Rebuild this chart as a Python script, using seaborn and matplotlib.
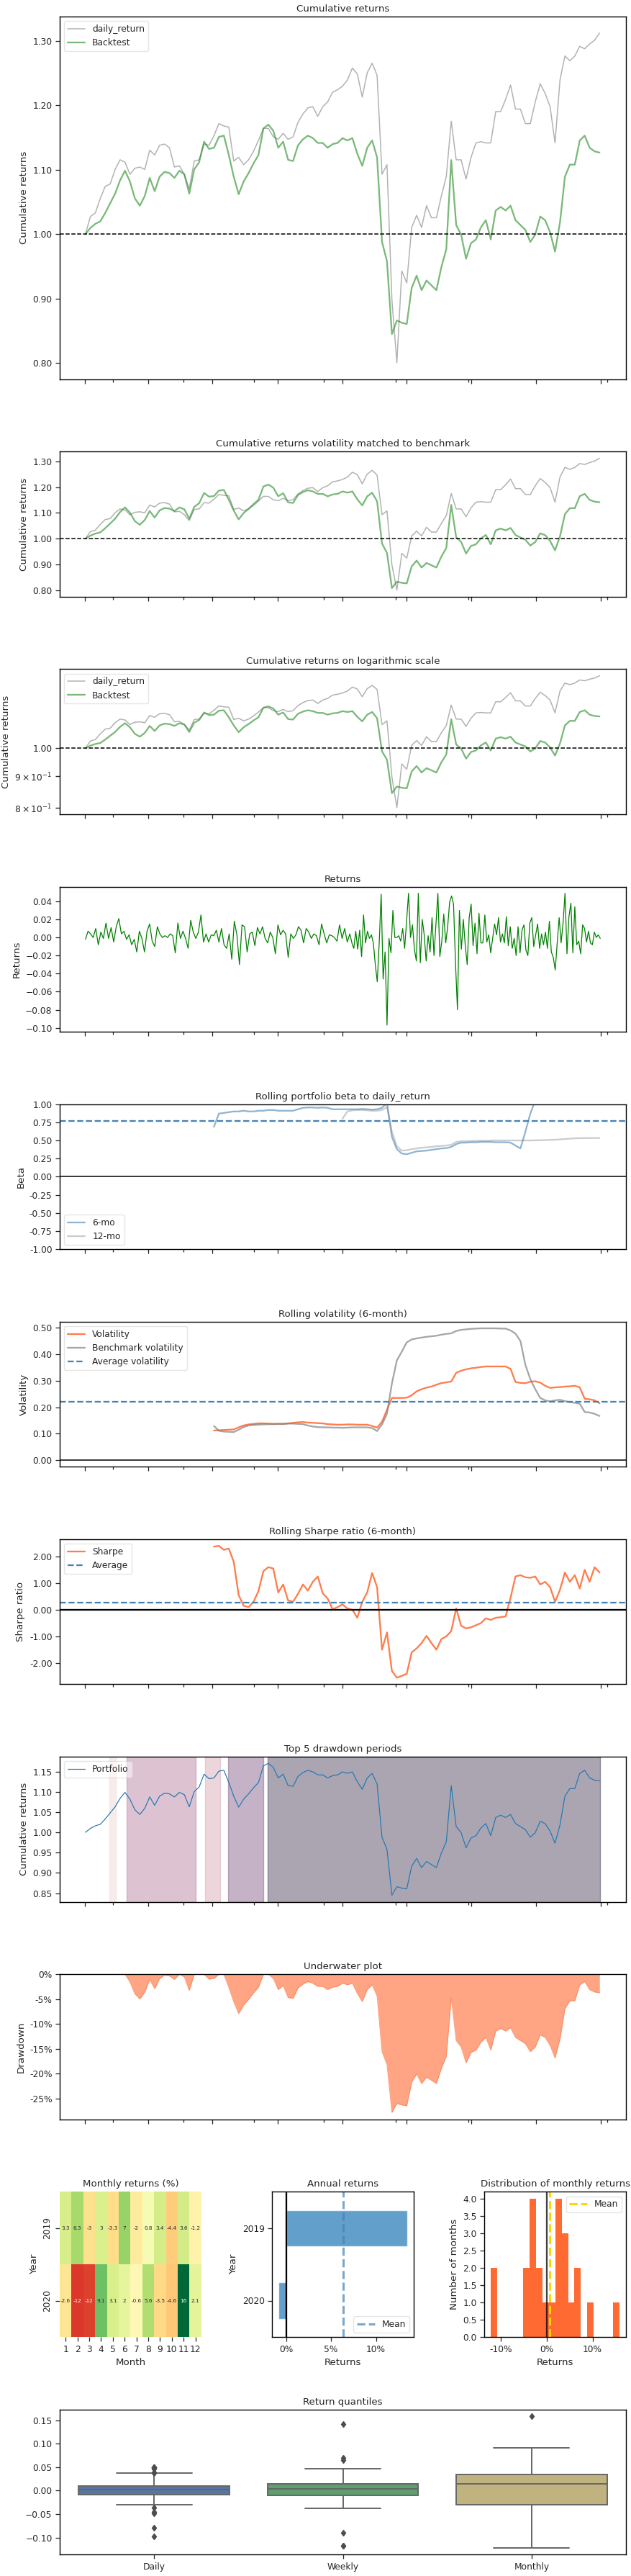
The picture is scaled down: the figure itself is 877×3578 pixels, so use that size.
import numpy as np
import pandas as pd
import matplotlib
matplotlib.use("Agg")
import matplotlib.pyplot as plt
import matplotlib.dates as mdates
from matplotlib.ticker import FuncFormatter, FixedLocator, MultipleLocator
import seaborn as sns

# ------------------------------------------------------------------ data
# weekly cumulative returns (2019-01-02 ... 2020-12-30, every 7 days)
backtest_cum = [
    1.000, 1.0097, 1.0161, 1.0199, 1.0330, 1.0480, 1.0629, 1.0836, 1.0985, 1.0817,
    1.0555, 1.0442, 1.0592, 1.0873, 1.0667, 1.0892, 1.0967, 1.0948, 1.0873, 1.0985,
    1.0929, 1.0629, 1.1004, 1.1117, 1.1435, 1.1323, 1.1341, 1.1510, 1.1529, 1.1229,
    1.0892, 1.0620, 1.0817, 1.0948, 1.1098, 1.1229, 1.1641, 1.1700, 1.1604, 1.1341,
    1.1435, 1.1154, 1.1135, 1.1379, 1.1472, 1.1529, 1.1491, 1.1416, 1.1416, 1.1341,
    1.1398, 1.1416, 1.1491, 1.1454, 1.1491, 1.1248, 1.1060, 1.1341, 1.1454, 1.1191,
    0.9880, 0.9580, 0.8450, 0.8662, 0.8625, 0.8606, 0.9168, 0.9356, 0.9131, 0.9281,
    0.9206, 0.9131, 0.9487, 0.9768, 1.1150, 1.0142, 0.9993, 0.9618, 0.9861, 0.9918,
    1.0105, 1.0217, 0.9918, 1.0367, 1.0423, 1.0367, 1.0442, 1.0217, 1.0142, 1.0067,
    0.9880, 0.9993, 1.0274, 1.0217, 1.0030, 0.9730, 1.0180, 1.0892, 1.1079, 1.1079,
    1.1454, 1.1529, 1.1341, 1.1285, 1.1266]
benchmark_cum = [
    1.000, 1.0274, 1.0330, 1.0555, 1.0742, 1.0779, 1.1004, 1.1154, 1.1117, 1.0929,
    1.1023, 1.1042, 1.1004, 1.1304, 1.1229, 1.1379, 1.1398, 1.1341, 1.1042, 1.1060,
    1.0929, 1.0704, 1.1135, 1.1154, 1.1398, 1.1379, 1.1529, 1.1716, 1.1679, 1.1660,
    1.1135, 1.1191, 1.1079, 1.1154, 1.1285, 1.1454, 1.1641, 1.1641, 1.1510, 1.1472,
    1.1566, 1.1472, 1.1510, 1.1735, 1.1866, 1.1960, 1.1978, 1.1828, 1.1978, 1.2053,
    1.2203, 1.2241, 1.2297, 1.2390, 1.2578, 1.2484, 1.2128, 1.2503, 1.2653, 1.2465,
    1.0929, 1.1079, 0.8981, 0.8007, 0.9430, 0.9243, 1.0105, 1.0292, 1.0105, 1.0442,
    1.0255, 1.0255, 1.0592, 1.0892, 1.1753, 1.1154, 1.1154, 1.0854, 1.1191, 1.1416,
    1.1435, 1.1416, 1.1416, 1.1903, 1.1903, 1.2091, 1.2315, 1.1941, 1.1941, 1.1716,
    1.1716, 1.2053, 1.2334, 1.2184, 1.1978, 1.1416, 1.2390, 1.2765, 1.2690, 1.2765,
    1.2915, 1.2877, 1.2952, 1.3009, 1.3121]

# rolling statistics (weekly), 6-month ones start at week 26, 12-month at week 52
beta_6m = [
    0.69, 0.87, 0.88, 0.89, 0.90, 0.90, 0.91, 0.90, 0.90, 0.91,
    0.91, 0.92, 0.92, 0.91, 0.91, 0.91, 0.91, 0.93, 0.95, 0.955,
    0.955, 0.95, 0.955, 0.95, 0.93, 0.93, 0.93, 0.93, 0.93, 0.93,
    0.935, 0.93, 0.925, 0.93, 0.95, 1.02, 0.55, 0.38, 0.32, 0.31,
    0.33, 0.35, 0.355, 0.36, 0.37, 0.38, 0.39, 0.395, 0.41, 0.45,
    0.47, 0.47, 0.475, 0.475, 0.48, 0.48, 0.48, 0.475, 0.475, 0.475,
    0.47, 0.43, 0.39, 0.62, 0.87, 1.05, 1.10, 1.11, 1.10, 1.09,
    1.08, 1.09, 1.08, 1.07, 1.08, 1.08, 1.07, 1.08, 1.09]
beta_12m = [
    0.80, 0.90, 0.915, 0.92, 0.92, 0.915, 0.91, 0.91, 0.92, 0.96,
    0.62, 0.42, 0.36, 0.365, 0.38, 0.39, 0.40, 0.405, 0.41, 0.42,
    0.425, 0.43, 0.44, 0.48, 0.49, 0.49, 0.492, 0.495, 0.497, 0.498,
    0.50, 0.50, 0.50, 0.50, 0.50, 0.50, 0.50, 0.50, 0.50, 0.502,
    0.503, 0.505, 0.508, 0.51, 0.515, 0.52, 0.525, 0.53, 0.532, 0.533,
    0.534, 0.534, 0.534]
vol_strategy = [
    0.112, 0.113, 0.114, 0.115, 0.116, 0.124, 0.131, 0.135, 0.137, 0.139,
    0.139, 0.138, 0.137, 0.137, 0.137, 0.139, 0.141, 0.143, 0.144, 0.142,
    0.141, 0.140, 0.139, 0.136, 0.135, 0.134, 0.134, 0.135, 0.135, 0.134,
    0.134, 0.134, 0.129, 0.123, 0.145, 0.190, 0.235, 0.235, 0.235, 0.236,
    0.245, 0.260, 0.268, 0.274, 0.278, 0.285, 0.291, 0.294, 0.297, 0.330,
    0.338, 0.343, 0.347, 0.349, 0.352, 0.354, 0.354, 0.354, 0.354, 0.354,
    0.345, 0.295, 0.292, 0.291, 0.296, 0.298, 0.293, 0.281, 0.273, 0.275,
    0.276, 0.278, 0.279, 0.281, 0.275, 0.232, 0.230, 0.226, 0.215]
vol_benchmark = [
    0.129, 0.111, 0.108, 0.107, 0.106, 0.115, 0.125, 0.131, 0.133, 0.134,
    0.135, 0.136, 0.136, 0.137, 0.137, 0.138, 0.138, 0.137, 0.136, 0.131,
    0.127, 0.125, 0.124, 0.124, 0.123, 0.123, 0.122, 0.123, 0.124, 0.124,
    0.124, 0.124, 0.121, 0.110, 0.135, 0.175, 0.290, 0.377, 0.410, 0.445,
    0.456, 0.460, 0.463, 0.466, 0.468, 0.470, 0.474, 0.477, 0.479, 0.488,
    0.492, 0.494, 0.496, 0.497, 0.498, 0.498, 0.498, 0.498, 0.497, 0.497,
    0.490, 0.478, 0.450, 0.360, 0.306, 0.268, 0.235, 0.226, 0.222, 0.226,
    0.228, 0.223, 0.219, 0.217, 0.213, 0.182, 0.180, 0.175, 0.167]
sharpe_6m = [
    2.37, 2.40, 2.25, 2.30, 1.80, 0.55, 0.15, 0.10, 0.30, 0.70,
    1.45, 1.60, 1.55, 0.65, 0.95, 0.35, 0.30, 0.60, 0.95, 0.72,
    1.05, 1.25, 0.62, 0.42, 0.02, 0.10, 0.20, 0.05, 0.0, -0.30,
    0.30, 0.65, 1.38, 0.85, -1.50, -0.85, -2.30, -2.55, -2.48, -2.40,
    -1.60, -1.45, -1.25, -0.98, -1.25, -1.50, -1.10, -1.00, -0.80, 0.05,
    -0.60, -0.70, -0.66, -0.58, -0.50, -0.32, -0.38, -0.30, -0.28, -0.25,
    0.45, 1.25, 1.30, 1.22, 1.20, 1.25, 0.95, 1.05, 0.85, 0.30,
    0.75, 1.40, 1.05, 1.30, 0.80, 1.50, 1.05, 1.60, 1.40]

# daily returns, sampled (2019-01-02 .. 2020-01-15 and 2020-01-17 .. 2020-12-31)
returns_2019 = [
    -0.002, 0.007, 0.004, 0.0, 0.010, -0.008, 0.006, -0.001, 0.016, -0.001,
    0.011, -0.005, 0.012, 0.021, 0.004, 0.007, -0.002, 0.003, -0.008, -0.002,
    -0.016, 0.007, -0.001, -0.016, 0.007, 0.015, -0.004, -0.010, 0.012, 0.004,
    0.0, 0.002, 0.0, 0.004, 0.002, -0.017, 0.016, -0.001, 0.007, -0.001,
    -0.012, 0.019, 0.006, -0.001, 0.006, 0.025, -0.005, 0.004, -0.005, 0.003,
    0.002, 0.008, -0.005, 0.010, -0.008, -0.012, 0.004, -0.024, 0.018, 0.003,
    -0.030, 0.014, 0.012, -0.016, 0.004, 0.006, -0.009, 0.011, 0.004, 0.012,
    -0.001, -0.006, 0.006, 0.0, -0.018, 0.014, 0.003, 0.008, 0.004, -0.022,
    0.004, -0.001, 0.003, 0.012, 0.008, -0.006, 0.010, 0.006, -0.001, 0.004,
    0.002, -0.008, 0.015, 0.004, -0.006, 0.003, 0.002, 0.0, -0.004, 0.014,
    -0.001, 0.010, -0.005, 0.004, -0.008]
returns_2020 = [
    -0.012, 0.007, -0.013, 0.008, -0.021, 0.025, -0.006, 0.007, -0.001, 0.003,
    -0.006, -0.030, -0.049, -0.006, 0.048, -0.046, -0.016, -0.097, -0.001, -0.017,
    0.030, 0.0, 0.0, 0.002, -0.004, 0.010, -0.012, 0.018, 0.049, 0.0,
    0.014, -0.013, -0.026, 0.049, -0.028, 0.020, 0.003, -0.026, 0.002, -0.016,
    0.022, -0.020, 0.015, 0.049, -0.021, -0.004, 0.026, -0.006, 0.012, 0.039,
    0.046, 0.037, -0.028, -0.080, 0.030, -0.013, 0.020, -0.009, -0.030, 0.022,
    0.037, -0.009, 0.016, -0.018, 0.027, -0.006, -0.006, 0.025, -0.005, 0.003,
    -0.017, -0.001, 0.015, 0.003, 0.022, -0.005, 0.004, -0.006, 0.023, -0.009,
    0.012, -0.012, -0.001, -0.020, 0.012, -0.017, 0.008, 0.014, -0.014, -0.020,
    0.016, 0.022, -0.010, 0.003, 0.015, -0.012, 0.004, -0.008, 0.006, -0.012,
    0.018, -0.016, -0.022, -0.036, -0.006, 0.022, -0.006, 0.016, 0.049, -0.018,
    0.023, 0.038, -0.017, 0.034, -0.008, -0.004, -0.018, 0.014, 0.010, -0.005,
    0.007, -0.006, -0.008, 0.006, 0.0, 0.003, -0.001]

# monthly returns (%)
months = [1, 2, 3, 4, 5, 6, 7, 8, 9, 10, 11, 12]
years = [2019, 2020]
monthly_2019 = [3.3, 6.3, -3.0, 3.0, -3.3, 7.0, -2.0, 0.8, 3.4, -4.4, 3.6, -1.2]
monthly_2020 = [-2.56, -12.2, -11.8, 9.14, 3.1, 2.0, -0.6, 5.6, -3.45, -4.56, 15.9, 2.14]

# top 5 drawdown periods, ordered by size
dd_peaks = ['2019-09-17', '2019-07-23', '2019-03-01', '2019-06-20', '2019-02-05']
dd_recoveries = ['2020-12-31', '2019-09-11', '2019-06-07', '2019-07-12', '2019-02-14']

start_date, end_date = '2019-01-02', '2020-12-31'
minor_tick_dates = ['2019-02-10', '2019-05-21', '2019-08-29', '2019-12-06',
                    '2020-03-16', '2020-06-27', '2021-01-10']

# ------------------------------------------------------------------ style
sns.set_theme(style="ticks", context="notebook")
plt.rcParams.update({
    "font.family": ["DejaVu Sans"],
    "axes.titlesize": 9.6,
    "axes.labelsize": 9.6,
    "xtick.labelsize": 8.8,
    "ytick.labelsize": 8.8,
    "legend.fontsize": 8.8,
    "axes.linewidth": 1.0,
    "axes.edgecolor": "black",
    "xtick.major.size": 4.3,
    "ytick.major.size": 4.0,
    "xtick.minor.size": 2.9,
    "xtick.major.width": 0.9,
    "ytick.major.width": 0.9,
    "xtick.minor.width": 0.9,
    "axes.titlepad": 5.0,
    "axes.labelpad": 4.0,
})
LW = 0.55  # pyfolio line width -> points at this resolution

dates_w = pd.date_range(start_date, periods=len(backtest_cum), freq="7D")
bt = pd.Series(backtest_cum, index=dates_w)
bm = pd.Series(benchmark_cum, index=dates_w)


def pad(values, n_total):
    return np.r_[np.full(n_total - len(values), np.nan), values]


n = len(dates_w)
beta6 = pd.Series(pad(beta_6m, n), index=dates_w)
beta12 = pd.Series(pad(beta_12m, n), index=dates_w)
vol_s = pd.Series(pad(vol_strategy, n), index=dates_w)
vol_b = pd.Series(pad(vol_benchmark, n), index=dates_w)
sharpe = pd.Series(pad(sharpe_6m, n), index=dates_w)

d19 = pd.date_range(start_date, '2020-01-15', periods=len(returns_2019))
d20 = pd.date_range('2020-01-17', end_date, periods=len(returns_2020))
daily = pd.Series(returns_2019 + returns_2020, index=d19.append(d20))

t0, t1 = pd.Timestamp(start_date), pd.Timestamp(end_date)
span = t1 - t0
xlim = (mdates.date2num(t0 - 0.05 * span), mdates.date2num(t1 + 0.05 * span))
major_ticks = mdates.date2num(pd.date_range('2019-01-01', '2021-01-01', freq='QS'))
minor_ticks = mdates.date2num(pd.to_datetime(minor_tick_dates))

two_dec = FuncFormatter(lambda x, p: '%.2f' % x)
pct0 = FuncFormatter(lambda x, p: '%.0f%%' % x)


def ts_axis(ax):
    ax.xaxis.set_major_locator(FixedLocator(major_ticks))
    ax.xaxis.set_minor_locator(FixedLocator(minor_ticks))
    ax.set_xlim(*xlim)
    ax.tick_params(axis='x', which='both', labelbottom=False)
    ax.tick_params(axis='y', which='minor', left=True)
    ax.set_xlabel('')


fig = plt.figure(figsize=(8.77, 35.78), dpi=100)
gs = fig.add_gridspec(12, 3, left=83 / 877, right=870 / 877,
                      top=1 - 23 / 3578, bottom=1 - 3548 / 3578,
                      hspace=0.5, wspace=0.5)

# ---- 1 cumulative returns
ax = fig.add_subplot(gs[0:2, :])
sns.lineplot(x=dates_w, y=bm.values, ax=ax, color='gray', lw=2 * LW, alpha=0.6, label='daily_return')
sns.lineplot(x=dates_w, y=bt.values, ax=ax, color='forestgreen', lw=3 * LW, alpha=0.6, label='Backtest')
ax.axhline(1.0, linestyle='--', color='black', lw=2 * LW)
ax.legend(loc='upper left', frameon=True, framealpha=0.5)
ax.set_title('Cumulative returns')
ax.set_ylabel('Cumulative returns')
ax.yaxis.set_major_formatter(two_dec)
ts_axis(ax)

# ---- 2 volatility matched
bt_r = bt.pct_change().dropna()
bm_r = bm.pct_change().dropna()
matched = bt_r / bt_r.std() * bm_r.std()
bt_matched = pd.concat([pd.Series([1.0], index=[dates_w[0]]), (1 + matched).cumprod()])
ax = fig.add_subplot(gs[2, :])
sns.lineplot(x=dates_w, y=bm.values, ax=ax, color='gray', lw=2 * LW, alpha=0.6)
sns.lineplot(x=bt_matched.index, y=bt_matched.values, ax=ax, color='forestgreen', lw=3 * LW, alpha=0.6)
ax.axhline(1.0, linestyle='--', color='black', lw=2 * LW)
ax.set_title('Cumulative returns volatility matched to benchmark')
ax.set_ylabel('Cumulative returns')
ax.yaxis.set_major_formatter(two_dec)
ts_axis(ax)

# ---- 3 log scale
ax = fig.add_subplot(gs[3, :])
sns.lineplot(x=dates_w, y=bm.values, ax=ax, color='gray', lw=2 * LW, alpha=0.6, label='daily_return')
sns.lineplot(x=dates_w, y=bt.values, ax=ax, color='forestgreen', lw=3 * LW, alpha=0.6, label='Backtest')
ax.axhline(1.0, linestyle='--', color='black', lw=2 * LW)
ax.set_yscale('log')
ax.yaxis.set_major_formatter(two_dec)
ax.legend(loc='upper left', frameon=True, framealpha=0.5)
ax.set_title('Cumulative returns on logarithmic scale')
ax.set_ylabel('Cumulative returns')
ts_axis(ax)

# ---- 4 returns
ax = fig.add_subplot(gs[4, :])
sns.lineplot(x=daily.index, y=daily.values, ax=ax, color='green', lw=0.9)
ax.yaxis.set_major_locator(MultipleLocator(0.02))
ax.set_title('Returns')
ax.set_ylabel('Returns')
ts_axis(ax)

# ---- 5 rolling beta
ax = fig.add_subplot(gs[5, :])
sns.lineplot(x=dates_w, y=beta6.values, ax=ax, color='steelblue', lw=3 * LW, alpha=0.6, label='6-mo')
sns.lineplot(x=dates_w, y=beta12.values, ax=ax, color='grey', lw=3 * LW, alpha=0.4, label='12-mo')
ax.axhline(np.nanmean(beta6.values), color='steelblue', linestyle='--', lw=3 * LW)
ax.axhline(0.0, color='black', linestyle='-', lw=2 * LW)
ax.set_ylim(-1.0, 1.0)
ax.yaxis.set_major_formatter(two_dec)
ax.legend(loc='lower left', frameon=True, framealpha=0.5)
ax.set_title('Rolling portfolio beta to daily_return')
ax.set_ylabel('Beta')
ts_axis(ax)

# ---- 6 rolling volatility
ax = fig.add_subplot(gs[6, :])
sns.lineplot(x=dates_w, y=vol_s.values, ax=ax, color='orangered', lw=3 * LW, alpha=0.7, label='Volatility')
sns.lineplot(x=dates_w, y=vol_b.values, ax=ax, color='grey', lw=3 * LW, alpha=0.7, label='Benchmark volatility')
ax.axhline(np.nanmean(vol_s.values), color='steelblue', linestyle='--', lw=3 * LW, label='Average volatility')
ax.axhline(0.0, color='black', linestyle='-', lw=2 * LW)
ax.yaxis.set_major_formatter(two_dec)
ax.legend(loc='upper left', frameon=True, framealpha=0.5)
ax.set_title('Rolling volatility (6-month)')
ax.set_ylabel('Volatility')
ts_axis(ax)

# ---- 7 rolling sharpe
ax = fig.add_subplot(gs[7, :])
sns.lineplot(x=dates_w, y=sharpe.values, ax=ax, color='orangered', lw=3 * LW, alpha=0.7, label='Sharpe')
ax.axhline(np.nanmean(sharpe.values), color='steelblue', linestyle='--', lw=3 * LW, label='Average')
ax.axhline(0.0, color='black', linestyle='-', lw=3 * LW)
ax.yaxis.set_major_formatter(two_dec)
ax.legend(loc='upper left', frameon=True, framealpha=0.5)
ax.set_title('Rolling Sharpe ratio (6-month)')
ax.set_ylabel('Sharpe ratio')
ts_axis(ax)

# ---- 8 top drawdown periods
ax = fig.add_subplot(gs[8, :])
sns.lineplot(x=dates_w, y=bt.values, ax=ax, color='tab:blue', lw=0.85, label='Portfolio')
colors = sns.cubehelix_palette(len(dd_peaks))[::-1]
for i, (pk, rc) in enumerate(zip(dd_peaks, dd_recoveries)):
    ax.axvspan(pd.Timestamp(pk), pd.Timestamp(rc), alpha=0.4, color=colors[i])
ax.legend(loc='upper left', frameon=True, framealpha=0.5)
ax.yaxis.set_major_formatter(two_dec)
ax.set_title('Top 5 drawdown periods')
ax.set_ylabel('Cumulative returns')
ts_axis(ax)

# ---- 9 underwater
underwater = -100 * (bt.cummax() - bt) / bt.cummax()
ax = fig.add_subplot(gs[9, :])
sns.lineplot(x=dates_w, y=underwater.values, ax=ax, color='coral', lw=0.8, alpha=0.7)
ax.fill_between(dates_w, underwater.values, 0, color='coral', alpha=0.7, lw=0)
ax.autoscale_view()
ax.set_ylim(top=0)
ax.yaxis.set_major_formatter(pct0)
ax.set_title('Underwater plot')
ax.set_ylabel('Drawdown')
ts_axis(ax)

# ---- 10a monthly heatmap
heat = pd.DataFrame([monthly_2019, monthly_2020], index=years, columns=months)
ax = fig.add_subplot(gs[10, 0])
sns.heatmap(heat, annot=True, annot_kws={"size": 5.2}, alpha=1.0, center=0.0,
            cbar=False, cmap='RdYlGn', ax=ax)
ax.set_yticklabels([str(y) for y in years], rotation=90, va='center')
ax.set_xticklabels([str(m) for m in months], rotation=0)
ax.set_ylabel('Year')
ax.set_xlabel('Month')
ax.set_title('Monthly returns (%)')

# ---- 10b annual returns
annual = [(np.prod(1 + np.array(m) / 100.0) - 1) * 100 for m in (monthly_2019, monthly_2020)]
ax = fig.add_subplot(gs[10, 1])
sns.barplot(x=annual, y=[str(y) for y in years], order=[str(y) for y in years],
            orient='h', color='tab:blue', alpha=0.7, saturation=1, width=0.5, ax=ax)
ax.axvline(np.mean(annual), color='steelblue', linestyle='--', lw=4 * LW, alpha=0.7, label='Mean')
ax.axvline(0.0, color='black', linestyle='-', lw=3 * LW)
ax.xaxis.set_major_formatter(pct0)
ax.legend(loc='lower right', frameon=True, framealpha=0.5)
ax.set_ylabel('Year')
ax.set_xlabel('Returns')
ax.set_title('Annual returns')

# ---- 10c distribution of monthly returns
monthly_all = np.array(monthly_2019 + monthly_2020)
ax = fig.add_subplot(gs[10, 2])
sns.histplot(x=monthly_all, bins=20, color='orangered', alpha=0.8, edgecolor='none', lw=0, ax=ax)
ax.axvline(monthly_all.mean(), color='gold', linestyle='--', lw=4 * LW, alpha=1.0, label='Mean')
ax.axvline(0.0, color='black', linestyle='-', lw=3 * LW, alpha=0.75)
ax.xaxis.set_major_formatter(pct0)
ax.yaxis.set_major_locator(MultipleLocator(0.5))
ax.yaxis.set_major_formatter(FuncFormatter(lambda x, p: '%.1f' % x))
ax.legend(loc='upper right', frameon=True, framealpha=0.5)
ax.set_ylabel('Number of months')
ax.set_xlabel('Returns')
ax.set_title('Distribution of monthly returns')

# ---- 11 return quantiles
weekly_r = bt.pct_change().dropna().values
monthly_r = monthly_all / 100.0
quant = pd.DataFrame({
    'freq': ['Daily'] * len(daily) + ['Weekly'] * len(weekly_r) + ['Monthly'] * len(monthly_r),
    'ret': np.r_[daily.values, weekly_r, monthly_r]})
ax = fig.add_subplot(gs[11, :])
sns.boxplot(data=quant, x='freq', y='ret', hue='freq', order=['Daily', 'Weekly', 'Monthly'],
            palette=['#4c72B0', '#55A868', '#CCB974'], legend=False, linecolor='0.4',
            linewidth=1.4, width=0.8,
            flierprops=dict(marker='d', markerfacecolor='0.3', markeredgecolor='0.3', markersize=4.5),
            ax=ax)
ax.set_xlabel('')
ax.set_ylabel('')
ax.set_title('Return quantiles')

fig.savefig('out.png', dpi=100)
